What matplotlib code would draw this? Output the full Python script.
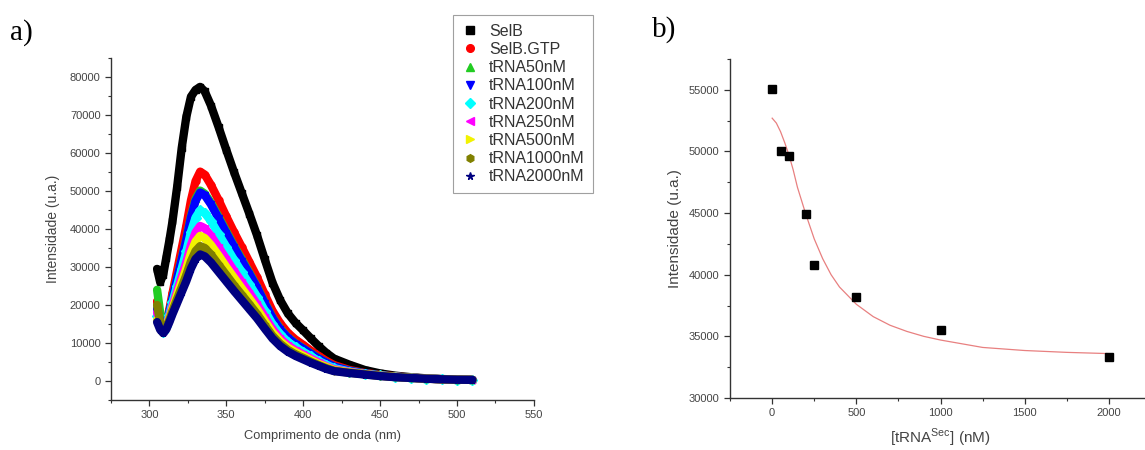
import numpy as np
import matplotlib
matplotlib.use("Agg")
import matplotlib.pyplot as plt
from matplotlib.lines import Line2D
from matplotlib.ticker import MultipleLocator, AutoMinorLocator

# emission spectra (a): wavelength grid and intensity per sample
wavelength = [305, 307, 309, 311, 313, 315, 318, 321, 324, 327, 330, 333,
              336, 340, 345, 350, 355, 360, 365, 370, 375, 380, 385, 390,
              395, 400, 405, 410, 415, 420, 430, 440, 450, 460, 470, 480,
              490, 500, 510]

selb = [29500, 26000, 28000, 32500, 37000, 42000, 51000, 61300, 69500, 74800, 76600, 77400,
        76200, 72500, 66800, 60800, 55000, 49500, 44000, 38300, 32000, 25900, 21300, 17800,
        15300, 13300, 11200, 9200, 7400, 5900, 4300, 2900, 2000, 1400, 1000, 700,
        520, 400, 320]
selb_gtp = [21000, 16500, 13000, 15100, 18900, 23100, 29000, 34900, 40800, 47500, 52600, 55100,
            54300, 51600, 47600, 43300, 39200, 35300, 31300, 27300, 22800, 18500, 15200, 12700,
            10900, 9500, 8000, 6600, 5300, 4200, 2900, 2100, 1600, 1200, 900, 650,
            480, 380, 300]
trna50 = [24000, 18000, 13000, 14900, 18200, 21900, 27100, 32300, 37500, 43400, 47900, 50100,
          49300, 46900, 43200, 39400, 35600, 32100, 28500, 24800, 20700, 16800, 13800, 11500,
          9900, 8600, 7300, 6000, 4800, 3800, 2700, 2000, 1500, 1150, 880, 640,
          470, 370, 300]
trna100 = [19000, 15500, 12800, 14800, 18100, 21800, 26900, 32000, 37200, 43000, 47400, 49600,
           48900, 46500, 42800, 39000, 35300, 31700, 28200, 24600, 20500, 16600, 13600, 11400,
           9800, 8500, 7200, 5900, 4800, 3800, 2700, 2000, 1500, 1150, 880, 640,
           470, 370, 300]
trna200 = [17000, 14500, 12800, 14600, 17500, 20700, 25100, 29600, 34100, 39200, 43000, 44900,
           44200, 42100, 38700, 35300, 31900, 28700, 25500, 22200, 18500, 15000, 12300, 10300,
           8900, 7700, 6500, 5300, 4300, 3400, 2500, 1900, 1450, 1100, 860, 630,
           470, 370, 300]
trna250 = [18000, 15000, 12800, 14400, 16900, 19700, 23600, 27500, 31300, 35800, 39100, 40800,
           40200, 38200, 35200, 32100, 29000, 26100, 23200, 20200, 16900, 13700, 11200, 9400,
           8100, 7000, 5900, 4900, 3900, 3100, 2400, 1850, 1400, 1100, 850, 620,
           460, 360, 300]
trna500 = [16000, 14000, 12800, 14300, 16500, 19000, 22600, 26100, 29600, 33700, 36700, 38200,
           37600, 35800, 33000, 30000, 27200, 24400, 21700, 18900, 15800, 12800, 10500, 8800,
           7600, 6600, 5500, 4500, 3700, 2900, 2300, 1800, 1400, 1100, 850, 620,
           460, 360, 300]
trna1000 = [20000, 15500, 12800, 14100, 16100, 18400, 21600, 24700, 27900, 31500, 34200, 35500,
            35000, 33300, 30600, 27900, 25200, 22700, 20200, 17600, 14700, 11900, 9800, 8200,
            7000, 6100, 5100, 4200, 3400, 2700, 2200, 1750, 1350, 1050, 830, 610,
            460, 360, 300]
trna2000 = [15500, 13500, 12600, 13600, 15500, 17600, 20500, 23400, 26300, 29600, 32100, 33300,
            32800, 31200, 28700, 26200, 23700, 21300, 18900, 16500, 13800, 11200, 9200, 7700,
            6600, 5700, 4800, 4000, 3200, 2600, 2100, 1700, 1300, 1000, 800, 600,
            450, 350, 300]

series_labels = ["SelB", "SelB.GTP", "tRNA50nM", "tRNA100nM", "tRNA200nM",
                 "tRNA250nM", "tRNA500nM", "tRNA1000nM", "tRNA2000nM"]
series_values = [selb, selb_gtp, trna50, trna100, trna200,
                 trna250, trna500, trna1000, trna2000]
series_colors = ["#000000", "#ff0000", "#22cc22", "#0000ff", "#00ffff",
                 "#ff00ff", "#f2f200", "#808000", "#000080"]
series_markers = ["s", "o", "^", "v", "D", "<", ">", "h", "*"]

# titration (b): peak intensity vs tRNA concentration, plus fitted curve
conc = [0, 50, 100, 200, 250, 500, 1000, 2000]
peak = [55100, 50050, 49600, 44900, 40800, 38200, 35500, 33300]
fit_conc = [0, 25, 50, 75, 100, 125, 150, 200, 250, 300, 350, 400, 500, 600,
            700, 800, 900, 1000, 1250, 1500, 1750, 2000]
fit_peak = [52700, 52300, 51600, 50700, 49700, 48500, 47100, 44900, 42900, 41300, 40000,
            39000, 37600, 36600, 35900, 35400, 35000, 34700, 34100, 33850, 33700, 33600]

plt.rcParams['font.family'] = ['Liberation Sans', 'DejaVu Sans']
axis_col = "#333333"
tick_col = "#444444"

fig = plt.figure(figsize=(11.45, 4.5), dpi=100)
ax1 = fig.add_axes([0.0969, 0.1111, 0.3694, 0.76])
ax2 = fig.add_axes([0.6376, 0.1156, 0.3677, 0.7533])


def style_axes(ax):
    for side in ["top", "right"]:
        ax.spines[side].set_visible(False)
    for side in ["left", "bottom"]:
        ax.spines[side].set_color(axis_col)
        ax.spines[side].set_linewidth(1.0)
    ax.tick_params(which="major", direction="out", length=4, width=0.9,
                   colors=axis_col, labelcolor=tick_col, labelsize=8)
    ax.tick_params(which="minor", direction="out", length=2.5, width=0.8, colors=axis_col)
    ax.xaxis.set_minor_locator(AutoMinorLocator(2))
    ax.yaxis.set_minor_locator(AutoMinorLocator(2))


# a) spectra, thick bands drawn in legend order so the 2000 nM trace ends on top
for vals, col, mk in zip(series_values, series_colors, series_markers):
    ax1.plot(wavelength, vals, color=col, lw=6, marker=mk, ms=5,
             mec=col, mfc=col, solid_capstyle="round", solid_joinstyle="round")

ax1.set_xlim(275, 550)
ax1.set_ylim(-5000, 85000)
ax1.xaxis.set_major_locator(MultipleLocator(50))
ax1.yaxis.set_major_locator(MultipleLocator(10000))
style_axes(ax1)
ax1.set_xlabel("Comprimento de onda (nm)", fontsize=9.3, color=tick_col, labelpad=7)
ax1.set_ylabel("Intensidade (u.a.)", fontsize=10, color=tick_col, labelpad=7)

handles = [Line2D([], [], color=c, marker=m, linestyle="none", ms=5.5)
           for c, m in zip(series_colors, series_markers)]
leg = fig.legend(handles, series_labels, loc="upper left",
                 bbox_to_anchor=(453 / 1145, 1 - 15 / 450), borderaxespad=0,
                 fontsize=11.5, frameon=True, fancybox=False, handlelength=1.0,
                 handletextpad=0.7, labelspacing=0.2, borderpad=0.55)
leg.get_frame().set_edgecolor("#888888")
leg.get_frame().set_linewidth(0.8)
for txt in leg.get_texts():
    txt.set_color("#333333")

# b) titration
ax2.plot(fit_conc, fit_peak, color="#e88080", lw=0.9)
ax2.plot(conc, peak, linestyle="none", marker="s", ms=6, color="#000000")
ax2.set_xlim(-250, 2250)
ax2.set_ylim(30000, 57500)
ax2.xaxis.set_major_locator(MultipleLocator(500))
ax2.yaxis.set_major_locator(MultipleLocator(5000))
style_axes(ax2)
ax2.set_xlabel(r"[tRNA$^{\mathregular{Sec}}$] (nM)", fontsize=11, color=tick_col, labelpad=6)
ax2.set_ylabel("Intensidade (u.a.)", fontsize=11, color=tick_col, labelpad=5)

fig.text(10 / 1145, 1 - 33 / 450, "a)", fontsize=21, family="Liberation Serif", va="center")
fig.text(652 / 1145, 1 - 30 / 450, "b)", fontsize=21, family="Liberation Serif", va="center")

fig.savefig("out.png", dpi=100)
